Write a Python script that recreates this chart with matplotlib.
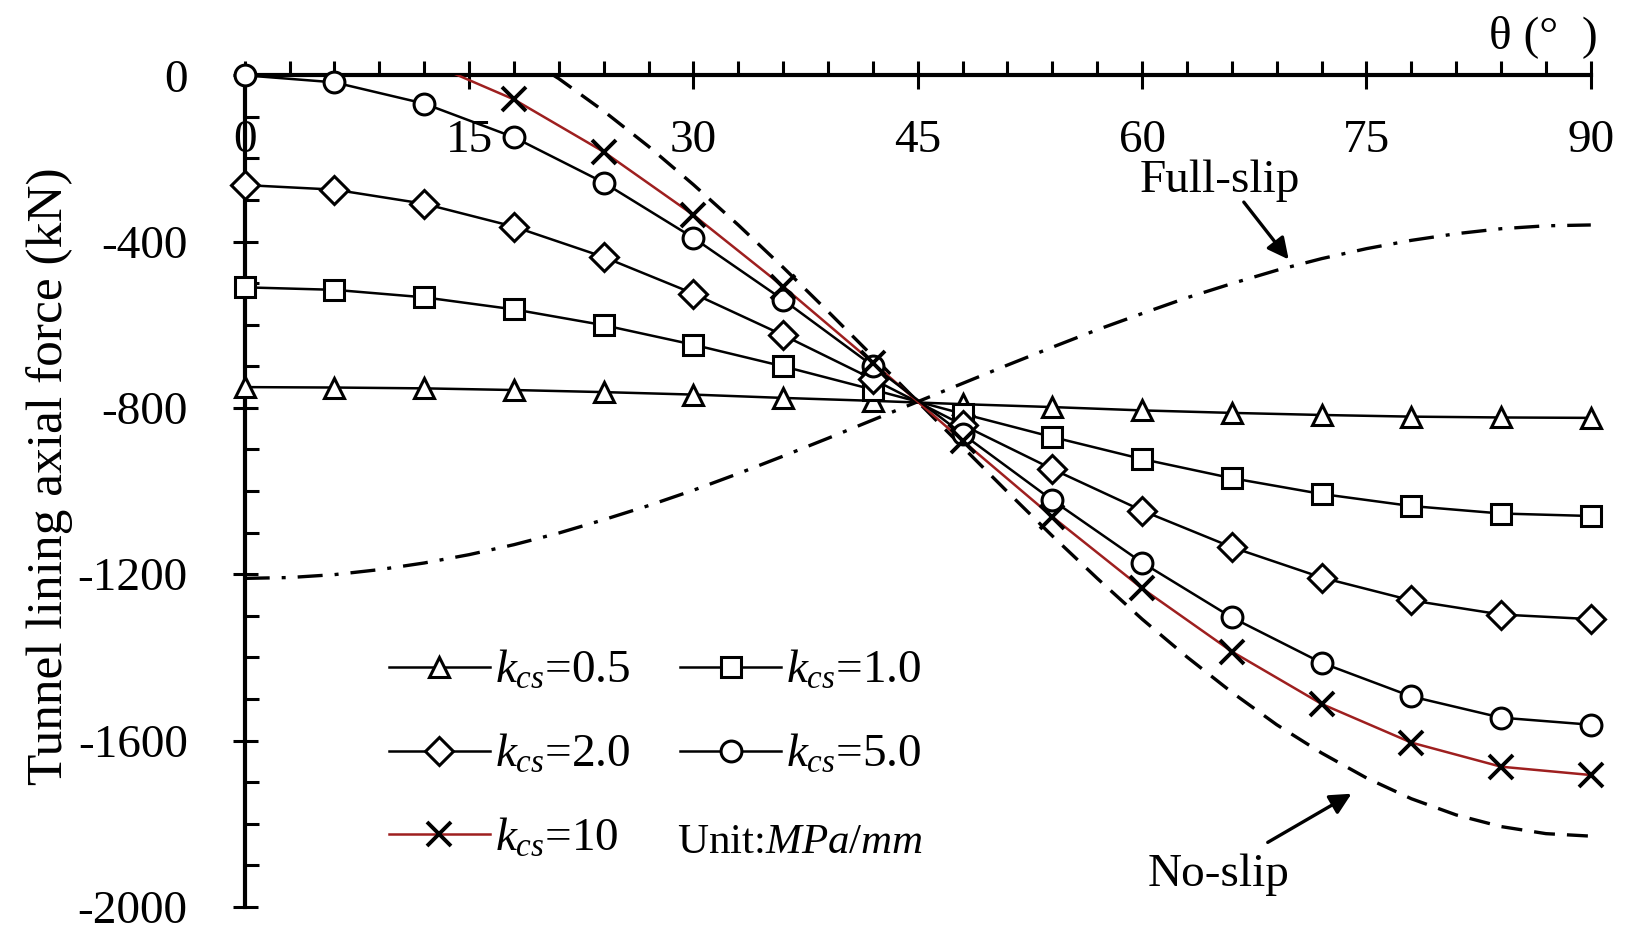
import matplotlib
matplotlib.use("Agg")
import matplotlib.pyplot as plt
from matplotlib.ticker import MultipleLocator

# ---- data ----
theta = [0, 6, 12, 18, 24, 30, 36, 42, 48, 54, 60, 66, 72, 78, 84, 90]
k05 = [-750, -751, -753, -757, -762, -768, -776, -783, -791, -798, -806, -812, -817, -821, -823, -824]
k10 = [-510, -516, -534, -563, -601, -648, -700, -756, -814, -870, -923, -969, -1007, -1036, -1054, -1060]
k20 = [-264, -275, -309, -364, -437, -525, -625, -731, -841, -947, -1047, -1135, -1208, -1263, -1297, -1308]
k50 = [0, -17, -68, -149, -258, -391, -540, -699, -863, -1022, -1172, -1304, -1413, -1494, -1545, -1562]
k100 = [113, 93, 35, -58, -184, -336, -508, -691, -879, -1062, -1234, -1386, -1512, -1605, -1663, -1683]

theta_fine = [0, 3, 6, 9, 12, 15, 18, 21, 24, 27, 30, 33, 36, 39, 42, 45,
              48, 51, 54, 57, 60, 63, 66, 69, 72, 75, 78, 81, 84, 87, 90]
full_slip = [-1210, -1208, -1201, -1189, -1173, -1153, -1129, -1101, -1069, -1035, -998,
             -958, -916, -873, -829, -785, -741, -697, -654, -612, -573, -535, -501,
             -469, -441, -417, -397, -381, -369, -362, -360]
no_slip = [260, 254, 237, 209, 170, 120, 60, -8, -86, -171, -263, -360, -462, -568, -676,
           -785, -894, -1002, -1108, -1210, -1308, -1399, -1484, -1562, -1630, -1690,
           -1740, -1779, -1807, -1824, -1830]

x_ticks = [0, 15, 30, 45, 60, 75, 90]
y_ticks = [0, -400, -800, -1200, -1600, -2000]

# ---- style ----
plt.rcParams['font.family'] = ['Liberation Serif', 'DejaVu Serif']
plt.rcParams['mathtext.fontset'] = 'custom'
plt.rcParams['mathtext.rm'] = 'Liberation Serif'
plt.rcParams['mathtext.it'] = 'Liberation Serif:italic'

FS = 34
RED = '#9E1F1F'

fig = plt.figure(figsize=(16.4, 9.4), dpi=100)
ax = fig.add_axes([0.1492, 0.0353, 0.8208, 0.8846])
ax.set_xlim(0, 90)
ax.set_ylim(-2000, 0)

for s in ['right', 'top']:
    ax.spines[s].set_visible(False)
ax.spines['bottom'].set_position(('data', 0))
for s in ['left', 'bottom']:
    ax.spines[s].set_linewidth(3)
    ax.spines[s].set_zorder(3)

ax.xaxis.set_ticks_position('bottom')
ax.yaxis.set_ticks_position('left')
ax.set_xticks(x_ticks)
ax.set_xticklabels([str(v) for v in x_ticks])
ax.set_yticks(y_ticks)
ax.set_yticklabels([str(v) for v in y_ticks])
ax.xaxis.set_minor_locator(MultipleLocator(3))
ax.yaxis.set_minor_locator(MultipleLocator(100))
ax.tick_params(axis='x', which='major', direction='inout', length=20, width=2.2,
               pad=22, labelsize=FS)
ax.tick_params(axis='x', which='minor', direction='in', length=10, width=2.2)
ax.tick_params(axis='y', which='major', direction='inout', length=18, width=2.2,
               pad=32, labelsize=FS)
ax.tick_params(axis='y', which='minor', direction='in', length=10, width=2.2)

mk = dict(markerfacecolor='white', markeredgecolor='black', markeredgewidth=2.2)

# reference curves
ax.plot(theta_fine, full_slip, color='black', lw=2.4,
        linestyle=(0, (7.5, 3.6, 1.2, 3.6)), zorder=2)
ax.plot(theta_fine, no_slip, color='black', lw=2.4,
        linestyle=(0, (6.3, 3.6)), zorder=2)

h05, = ax.plot(theta, k05, color='black', lw=1.8, marker='^', markersize=15,
               clip_on=False, zorder=4, **mk)
h10, = ax.plot(theta, k10, color='black', lw=1.8, marker='s', markersize=15,
               clip_on=False, zorder=4, **mk)
h20, = ax.plot(theta, k20, color='black', lw=1.8, marker='D', markersize=14,
               clip_on=False, zorder=4, **mk)
h50, = ax.plot(theta, k50, color='black', lw=1.8, marker='o', markersize=15,
               clip_on=False, zorder=5, **mk)
ax.plot(theta, k100, color=RED, lw=1.8, zorder=4)
vis_t = [t for t, v in zip(theta, k100) if v <= 0]
vis_v = [v for v in k100 if v <= 0]
ax.plot(vis_t, vis_v, linestyle='none', marker='x', markersize=17,
        markeredgewidth=2.8, color='black', clip_on=False, zorder=6)
h100, = ax.plot([], [], color=RED, lw=1.8, marker='x', markersize=17,
                markeredgewidth=2.8, markeredgecolor='black')

leg = ax.legend([h05, h20, h100, h10, h50],
                [r'$k_{cs}$=0.5', r'$k_{cs}$=2.0', r'$k_{cs}$=10',
                 r'$k_{cs}$=1.0', r'$k_{cs}$=5.0'],
                ncol=2, loc='upper left', bbox_to_anchor=(0.107, 0.309),
                frameon=False, fontsize=FS, handlelength=2.15, handletextpad=0.1,
                columnspacing=1.05, labelspacing=0.86, borderpad=0, borderaxespad=0)

ax.text(28.9, -1846, r'Unit:$MPa/mm$', fontsize=FS - 3, ha='left', va='center')

# annotations
ax.text(65.2, -254, 'Full-slip', fontsize=FS, ha='center', va='center')
ax.annotate('', xy=(69.8, -443), xytext=(66.8, -305),
            arrowprops=dict(arrowstyle='-|>', lw=2.4, color='black',
                            mutation_scale=32, shrinkA=0, shrinkB=0))
ax.text(65.1, -1922, 'No-slip', fontsize=FS, ha='center', va='center',
        clip_on=False)
ax.annotate('', xy=(74.0, -1728), xytext=(68.4, -1845),
            arrowprops=dict(arrowstyle='-|>', lw=2.4, color='black',
                            mutation_scale=32, shrinkA=0, shrinkB=0),
            annotation_clip=False)

ax.text(86.8, 93, 'θ (°  )', fontsize=FS, ha='center', va='center', clip_on=False)

fig.text(50 / 1640, 1 - 476 / 940, 'Tunnel lining axial force (kN)', fontsize=37,
         rotation=90, ha='center', va='center')

fig.savefig('out.png', dpi=100)
